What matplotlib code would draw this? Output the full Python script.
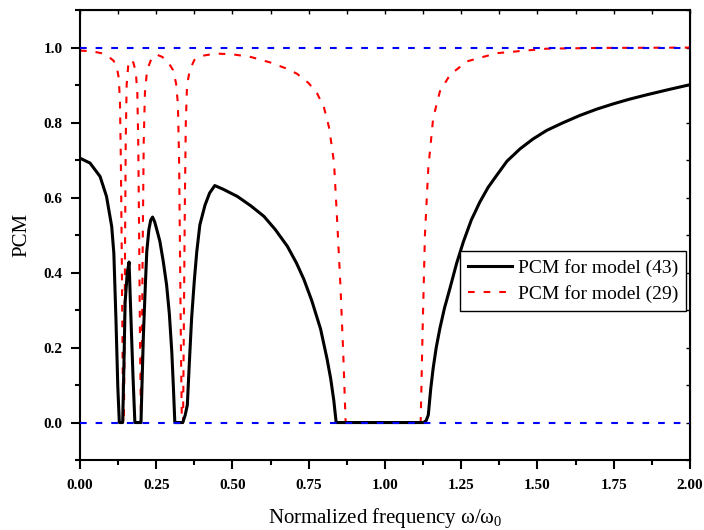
import matplotlib
matplotlib.use('Agg')
import matplotlib.pyplot as plt
from matplotlib.ticker import MultipleLocator, FormatStrFormatter

plt.rcParams['font.family'] = ['Liberation Serif', 'DejaVu Serif']
plt.rcParams['mathtext.fontset'] = 'custom'
plt.rcParams['mathtext.rm'] = 'Liberation Serif'
plt.rcParams['mathtext.it'] = 'Liberation Serif'

# PCM for model (43)
w_43 = [0.000, 0.033, 0.066, 0.087, 0.104, 0.111, 0.118, 0.124, 0.129,
        0.140, 0.144, 0.148, 0.155, 0.161, 0.165, 0.169, 0.174, 0.180,
        0.200, 0.204, 0.208, 0.214, 0.219, 0.226, 0.232, 0.238, 0.245,
        0.255, 0.262, 0.273, 0.284, 0.293, 0.301, 0.306, 0.311,
        0.337, 0.345, 0.352, 0.358, 0.366, 0.375, 0.383, 0.393, 0.410,
        0.425, 0.442, 0.470, 0.516, 0.560, 0.603, 0.640, 0.680, 0.710,
        0.734, 0.760, 0.789, 0.810, 0.822, 0.832, 0.840,
        1.126, 1.135, 1.142, 1.150, 1.158, 1.168, 1.180, 1.195, 1.213,
        1.235, 1.257, 1.283, 1.311, 1.338, 1.366, 1.400, 1.443, 1.485,
        1.530, 1.585, 1.639, 1.695, 1.749, 1.800, 1.858, 1.930, 2.000]
pcm_43 = [0.705, 0.692, 0.656, 0.603, 0.523, 0.452, 0.274, 0.096, 0.000,
          0.000, 0.150, 0.320, 0.400, 0.428, 0.330, 0.234, 0.120, 0.000,
          0.000, 0.120, 0.234, 0.360, 0.456, 0.515, 0.540, 0.548, 0.535,
          0.505, 0.483, 0.430, 0.367, 0.290, 0.189, 0.100, 0.000,
          0.000, 0.020, 0.047, 0.150, 0.278, 0.380, 0.456, 0.527, 0.580,
          0.612, 0.632, 0.622, 0.603, 0.578, 0.550, 0.515, 0.470, 0.425,
          0.382, 0.325, 0.249, 0.170, 0.117, 0.060, 0.000,
          0.000, 0.005, 0.020, 0.090, 0.145, 0.200, 0.251, 0.305, 0.358,
          0.425, 0.482, 0.540, 0.588, 0.627, 0.659, 0.697, 0.730, 0.756,
          0.779, 0.800, 0.819, 0.836, 0.850, 0.862, 0.874, 0.888, 0.901]

# PCM for model (29)
w_29 = [0.000, 0.040, 0.070, 0.095, 0.110, 0.120, 0.127, 0.131, 0.134,
        0.137, 0.140, 0.142, 0.144, 0.146, 0.148, 0.150, 0.153, 0.158,
        0.166, 0.175, 0.183, 0.188, 0.191, 0.194, 0.197, 0.200, 0.203,
        0.206, 0.209, 0.213, 0.220, 0.235, 0.252, 0.270, 0.290, 0.305,
        0.315, 0.321, 0.325, 0.328, 0.331, 0.334, 0.338, 0.341, 0.344,
        0.347, 0.351, 0.360, 0.375, 0.400, 0.445, 0.500, 0.560, 0.625,
        0.680, 0.712, 0.750, 0.778, 0.800, 0.816, 0.825, 0.833, 0.843,
        0.854, 0.863, 0.871, 1.117, 1.123, 1.131, 1.142, 1.158, 1.180,
        1.213, 1.268, 1.366, 1.530, 1.700, 2.000]
pcm_29 = [0.992, 0.990, 0.985, 0.975, 0.965, 0.950, 0.920, 0.860, 0.700,
          0.450, 0.150, 0.000, 0.000, 0.200, 0.500, 0.750, 0.900, 0.950,
          0.968, 0.960, 0.935, 0.880, 0.750, 0.500, 0.200, 0.000, 0.200,
          0.500, 0.750, 0.880, 0.940, 0.972, 0.981, 0.975, 0.960, 0.940,
          0.905, 0.850, 0.700, 0.450, 0.200, 0.000, 0.000, 0.300, 0.600,
          0.800, 0.900, 0.940, 0.967, 0.978, 0.984, 0.982, 0.975, 0.960,
          0.943, 0.930, 0.905, 0.877, 0.840, 0.789, 0.740, 0.692, 0.541,
          0.364, 0.188, 0.000, 0.000, 0.234, 0.500, 0.678, 0.812, 0.883,
          0.927, 0.963, 0.985, 0.997, 0.999, 1.000]

ref_levels = [0.0, 1.0]

fig = plt.figure(figsize=(7.04, 5.30), dpi=100)
ax = fig.add_axes([0.1136, 0.132, 0.8665, 0.849])

dash = (0, (3.2, 4.3))
ax.plot(w_43, pcm_43, color='black', lw=2.2, label='PCM for model (43)', zorder=3)
ax.plot(w_29, pcm_29, color='red', lw=1.5, ls=dash, label='PCM for model (29)', zorder=2)
for lev in ref_levels:
    ax.axhline(lev, color='blue', lw=1.5, ls=dash, zorder=4)

ax.set_xlim(0, 2)
ax.set_ylim(-0.1, 1.1)
ax.xaxis.set_major_locator(MultipleLocator(0.25))
ax.xaxis.set_minor_locator(MultipleLocator(0.125))
ax.yaxis.set_major_locator(MultipleLocator(0.2))
ax.yaxis.set_minor_locator(MultipleLocator(0.1))
ax.xaxis.set_major_formatter(FormatStrFormatter('%.2f'))
ax.yaxis.set_major_formatter(FormatStrFormatter('%.1f'))
ax.tick_params(which='major', direction='out', length=6.5, width=1.5, labelsize=11)
ax.tick_params(which='minor', direction='out', length=3.5, width=1.5)
ax.tick_params(axis='x', which='major', pad=7)
ax.tick_params(axis='y', which='major', pad=6)
for lab in ax.get_xticklabels() + ax.get_yticklabels():
    lab.set_fontweight('bold')
for sp in ax.spines.values():
    sp.set_linewidth(1.5)

# mirror ticks pointing inward on top and right
top = ax.secondary_xaxis('top')
top.xaxis.set_major_locator(MultipleLocator(0.25))
top.xaxis.set_minor_locator(MultipleLocator(0.125))
top.tick_params(which='both', direction='in', length=3, width=1, labeltop=False)
right = ax.secondary_yaxis('right')
right.yaxis.set_major_locator(MultipleLocator(0.2))
right.yaxis.set_minor_locator(MultipleLocator(0.1))
right.tick_params(which='both', direction='in', length=3, width=1, labelright=False)

ax.set_xlabel(r'Normalized frequency ω/ω$_0$', fontsize=15, labelpad=10)
ax.set_ylabel('PCM', fontsize=15, labelpad=9)

leg = ax.legend(loc='upper right', bbox_to_anchor=(0.993, 0.465), fontsize=14,
                frameon=True, fancybox=False, edgecolor='black', framealpha=1,
                borderpad=0.4, handlelength=2.25, labelspacing=0.45,
                handletextpad=0.3, borderaxespad=0)
leg.get_frame().set_linewidth(1.0)

fig.savefig('out.png', dpi=100)
